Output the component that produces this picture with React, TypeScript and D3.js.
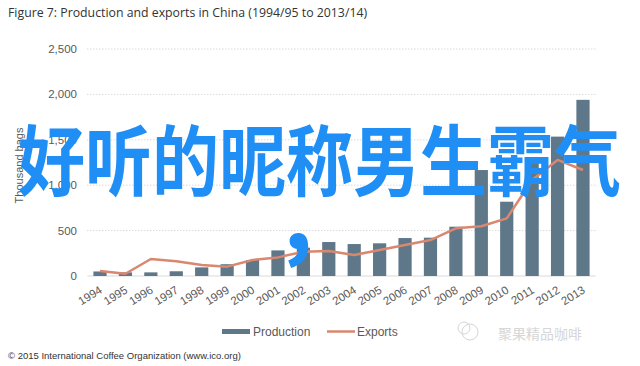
import React from "react";
import * as d3 from "d3";

const years = ["1994","1995","1996","1997","1998","1999","2000","2001","2002","2003","2004","2005","2006","2007","2008","2009","2010","2011","2012","2013"];
const production = [50, 40, 40, 52, 95, 130, 176, 282, 312, 374, 352, 360, 418, 422, 543, 1167, 818, 1300, 1535, 1940];
const exports = [55, 25, 187, 162, 121, 103, 176, 205, 268, 275, 231, 286, 341, 396, 525, 548, 635, 1057, 1278, 1167];
const yTicks = [0, 500, 1000, 1500, 2000, 2500];

const W = 640, H = 366;
const left = 87.3, right = 595.7, top = 49, bottom = 276;

export default function App() {
  const x = d3.scaleBand().domain(years).range([left, right]).paddingInner(0.48).paddingOuter(0.24);
  const y = d3.scaleLinear().domain([0, 2500]).range([bottom, top]);
  const cx = (d: string) => (x(d) as number) + x.bandwidth() / 2;
  const line = d3.line<number>().x((_, i) => cx(years[i])).y((v) => y(v));
  const fmt = d3.format(",");
  const axisFont = "'Liberation Sans', Arial, sans-serif";
  return (
    <svg width={W} height={H} style={{ position: "absolute", left: 0, top: 0, background: "#fff" }}>
      <rect x={0} y={0} width={W} height={H} fill="#fff" />
      <text x={8} y={17} fontFamily="'Open Sans', sans-serif" fontSize={12.3} fill="#333">Figure 7: Production and exports in China (1994/95 to 2013/14)</text>
      {yTicks.map((t) => (
        <g key={t}>
          {t > 0 ? (
            <line x1={left} x2={right} y1={y(t)} y2={y(t)} stroke="#c8c8c8" strokeWidth={1} strokeDasharray="1,2" />
          ) : (
            <line x1={left} x2={right} y1={y(t)} y2={y(t)} stroke="#d9d9d9" strokeWidth={1} />
          )}
          <text x={77} y={y(t) + 4} textAnchor="end" fontFamily={axisFont} fontSize={11.5} fill="#595959">{fmt(t)}</text>
        </g>
      ))}
      <text transform={`translate(23,${(top + bottom) / 2 + 3}) rotate(-90)`} textAnchor="middle" fontFamily={axisFont} fontSize={11} fill="#595959">Thousand bags</text>
      {years.map((d, i) => (
        <rect key={d} x={x(d)} y={y(production[i])} width={x.bandwidth()} height={bottom - y(production[i])} fill="#5f7889" />
      ))}
      <path d={line(exports) || ""} fill="none" stroke="#d9876e" strokeWidth={2.5} strokeLinejoin="round" />
      {years.map((d) => (
        <text key={d} transform={`translate(${cx(d) + 3},${bottom + 16}) rotate(-32)`} textAnchor="end" fontFamily={axisFont} fontSize={11.5} fill="#595959">{d}</text>
      ))}
      <rect x={222} y={329} width={28} height={5} fill="#5f7889" />
      <text x={253} y={336} fontFamily={axisFont} fontSize={12} fill="#595959">Production</text>
      <line x1={327} x2={355} y1={331.5} y2={331.5} stroke="#d9876e" strokeWidth={2.5} />
      <text x={357} y={336} fontFamily={axisFont} fontSize={12} fill="#595959">Exports</text>
      <text x={8} y={359} fontFamily={axisFont} fontSize={9.5} fill="#333">© 2015 International Coffee Organization (www.ico.org)</text>
      <g opacity={0.6}>
        <circle cx={470} cy={332} r={8} fill="none" stroke="#bbb" strokeWidth={1} />
        <circle cx={464} cy={328} r={6} fill="none" stroke="#bbb" strokeWidth={1} />
        <text x={498} y={339} fontFamily="'Noto Sans CJK SC', sans-serif" fontSize={14} fill="#bbb">聚果精品咖啡</text>
      </g>
      <text x={18} y={190} fontFamily="'Noto Sans CJK SC', sans-serif" fontWeight={700} fontSize={67} fill="#1f8ef5" transform="translate(0,190) scale(1,1.16) translate(0,-190)">好听的昵称男生霸气</text>
      <text x={284} y={250} fontFamily="'Noto Sans CJK SC', sans-serif" fontWeight={900} fontSize={80} fill="#1f8ef5">,</text>
    </svg>
  );
}
